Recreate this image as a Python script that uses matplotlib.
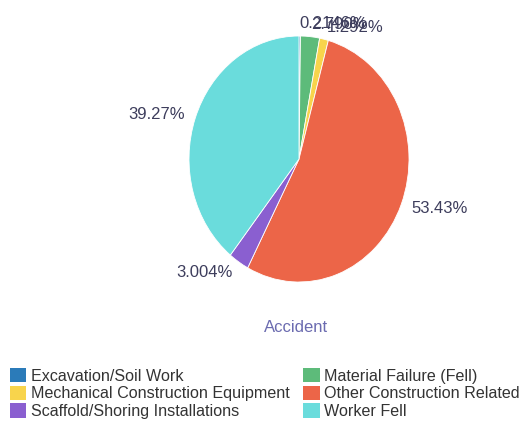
import matplotlib.pyplot as plt
from matplotlib.patches import Patch

plt.rcParams["font.family"] = ["Liberation Sans", "DejaVu Sans"]

categories = [
    "Excavation/Soil Work",
    "Material Failure (Fell)",
    "Mechanical Construction Equipment",
    "Other Construction Related",
    "Scaffold/Shoring Installations",
    "Worker Fell",
]
shares = [0.2146, 2.79, 1.292, 53.43, 3.004, 39.27]
labels = ["0.2146%", "2.790%", "1.292%", "53.43%", "3.004%", "39.27%"]
colors = ["#2b7bb9", "#5dbb7a", "#f8d44c", "#ec6548", "#8a5fd0", "#6adcdc"]

W, H = 522, 424
fig = plt.figure(figsize=(W / 100, H / 100), dpi=100)

# pie is slightly squashed horizontally in the reference
cx, cy, rx, ry = 299, 159, 110, 123
ax = fig.add_axes([(cx - rx) / W, (H - cy - ry) / H, 2 * rx / W, 2 * ry / H])
wedges, texts = ax.pie(
    shares,
    labels=labels,
    colors=colors,
    startangle=90,
    counterclock=False,
    labeldistance=1.1,
    wedgeprops=dict(edgecolor="white", linewidth=0.6),
    textprops=dict(fontsize=12, color="#3d3d5c"),
)
ax.set_aspect("auto")
ax.set_xlim(-1, 1)
ax.set_ylim(-1, 1)

fig.text(296 / W, 1 - 327 / H, "Accident", ha="center", va="center",
         fontsize=12, color="#6b6bb0")

order = [0, 2, 4, 1, 3, 5]
handles = [Patch(facecolor=colors[i], edgecolor="none") for i in order]
fig.legend(
    handles,
    [categories[i] for i in order],
    ncol=2,
    loc="upper left",
    bbox_to_anchor=(10 / W, 1 - 368 / H),
    frameon=False,
    fontsize=11.6,
    labelcolor="#333333",
    handlelength=1.0,
    handleheight=1.0,
    handletextpad=0.3,
    columnspacing=0.85,
    labelspacing=0.12,
    borderaxespad=0,
    borderpad=0,
)

fig.savefig("out.png", dpi=100)
